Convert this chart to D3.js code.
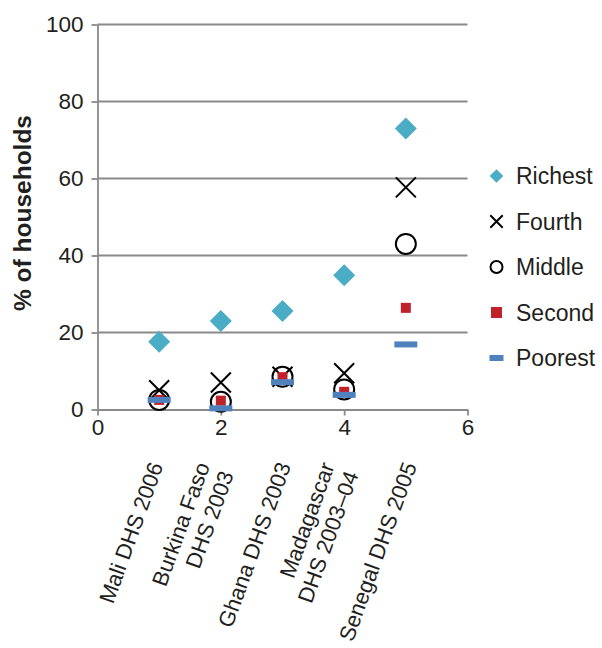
<!DOCTYPE html>
<html>
<head>
<meta charset="utf-8">
<script src="https://cdn.jsdelivr.net/npm/d3@7/dist/d3.min.js"></script>
<style>
  html, body { margin: 0; padding: 0; background: #fff; }
  svg { display: block; font-family: "Liberation Sans", Arial, sans-serif; }
</style>
</head>
<body>
<svg id="chart" width="602" height="648"></svg>
<script>
// Survey labels (one entry per line of the label) and their x positions
const surveyLabels = [
  ["Mali DHS 2006"],
  ["Burkina Faso", "DHS 2003"],
  ["Ghana DHS 2003"],
  ["Madagascar", "DHS 2003\u201304"],
  ["Senegal DHS 2005"]
];
const surveyX = [1, 2, 3, 4, 5];

// % of households, by wealth quintile
const richest = [17.6, 23.0, 25.6, 34.9, 73.0];
const fourth  = [5.0, 7.0, 8.5, 9.4, 57.7];
const middle  = [2.5, 2.0, 8.5, 5.2, 43.0];
const second  = [2.5, 2.3, 8.4, 4.6, 26.4];
const poorest = [2.5, 0.3, 7.1, 3.8, 16.9];

const seriesNames = ["Richest", "Fourth", "Middle", "Second", "Poorest"];

// Axis ticks
const yTicks = [0, 20, 40, 60, 80, 100];
const xTicks = [0, 2, 4, 6];

const svg = d3.select("#chart");
const gridColor = "#8a8a8a";
const textColor = "#231f20";

const x = d3.scaleLinear().domain([0, 6]).range([97.5, 467.5]);
const y = d3.scaleLinear().domain([0, 100]).range([409.5, 24.5]);

// Horizontal gridlines
svg.append("g")
  .selectAll("line")
  .data(yTicks.filter(t => t > 0))
  .join("line")
  .attr("x1", x(0)).attr("x2", x(6))
  .attr("y1", d => y(d)).attr("y2", d => y(d))
  .attr("stroke", gridColor).attr("stroke-width", 1.8);

// Y axis
const yAxis = svg.append("g")
  .attr("transform", `translate(${x(0)},0)`)
  .call(d3.axisLeft(y).tickValues(yTicks).tickFormat(d3.format("d"))
    .tickSize(6).tickPadding(8).tickSizeOuter(0));
yAxis.select(".domain").attr("stroke", gridColor).attr("stroke-width", 1.8);
yAxis.selectAll(".tick line").attr("stroke", gridColor).attr("stroke-width", 1.8);
yAxis.selectAll(".tick text")
  .attr("font-size", 22.5).attr("fill", textColor)
  .attr("font-family", "Liberation Sans, Arial, sans-serif");

// X axis
const xAxis = svg.append("g")
  .attr("transform", `translate(0,${y(0)})`)
  .call(d3.axisBottom(x).tickValues(xTicks).tickFormat(d3.format("d"))
    .tickSize(6).tickPadding(4).tickSizeOuter(0));
xAxis.select(".domain").attr("stroke", gridColor).attr("stroke-width", 1.8);
xAxis.selectAll(".tick line").attr("stroke", gridColor).attr("stroke-width", 1.8);
xAxis.selectAll(".tick text")
  .attr("font-size", 22.5).attr("fill", textColor)
  .attr("font-family", "Liberation Sans, Arial, sans-serif");

// Y axis title
svg.append("text")
  .attr("transform", `translate(31,${(y(0) + y(100)) / 2 - 4}) rotate(-90)`)
  .attr("text-anchor", "middle")
  .attr("font-size", 24.5)
  .attr("font-weight", "bold")
  .attr("fill", textColor)
  .text("% of households");

// Rotated survey labels: lines right-aligned, the rotated block centred
// horizontally under its tick and hung from a common top line
const labelFont = 22;
const lineStep = 25.5;
const labelTop = 459;
surveyLabels.forEach((lines, i) => {
  const outer = svg.append("g");
  const inner = outer.append("g").attr("transform", "rotate(-70)");
  lines.forEach((ln, k) => inner.append("text")
    .attr("font-size", labelFont)
    .attr("fill", textColor)
    .attr("text-anchor", "end")
    .attr("y", k * lineStep)
    .text(ln));
  const bb = outer.node().getBBox();
  const cx = x(surveyX[i]) - 28;
  outer.attr("transform",
    `translate(${cx - (bb.x + bb.width / 2)},${labelTop - bb.y})`);
});

// Marker shapes
const markers = {
  Richest: (sel, s) => sel.append("path")
    .attr("d", `M0,${-s}L${s},0L0,${s}L${-s},0Z`)
    .attr("fill", "#4bacc6"),
  Fourth: (sel, s) => sel.append("path")
    .attr("d", `M${-s},${-s}L${s},${s}M${-s},${s}L${s},${-s}`)
    .attr("stroke", "#000").attr("stroke-width", 2).attr("fill", "none"),
  Middle: (sel, s) => sel.append("circle")
    .attr("r", s)
    .attr("stroke", "#000").attr("stroke-width", 2).attr("fill", "none"),
  Second: (sel, s) => sel.append("rect")
    .attr("x", -s).attr("y", -s).attr("width", 2 * s).attr("height", 2 * s)
    .attr("fill", "#c0222b"),
  Poorest: (sel, s) => sel.append("rect")
    .attr("x", -s).attr("y", -3).attr("width", 2 * s).attr("height", 6)
    .attr("fill", "#4f81bd")
};
const plotSize = { Richest: 11, Fourth: 10, Middle: 10, Second: 5, Poorest: 11.5 };
const legendSize = { Richest: 6.8, Fourth: 6.2, Middle: 6, Second: 5.5, Poorest: 7 };

const seriesValues = [richest, fourth, middle, second, poorest];
seriesNames.forEach((name, si) => {
  const g = svg.append("g");
  seriesValues[si].forEach((v, i) => {
    const m = g.append("g").attr("transform", `translate(${x(surveyX[i])},${y(v)})`);
    markers[name](m, plotSize[name]);
  });
});

// Legend
const legend = svg.append("g").attr("transform", "translate(496.5,176)");
seriesNames.forEach((name, i) => {
  const row = legend.append("g").attr("transform", `translate(0,${i * 45.5})`);
  markers[name](row, legendSize[name]);
  row.append("text")
    .attr("x", 19.5)
    .attr("dy", "0.35em")
    .attr("font-size", 23)
    .attr("fill", textColor)
    .text(name);
});
</script>
</body>
</html>
